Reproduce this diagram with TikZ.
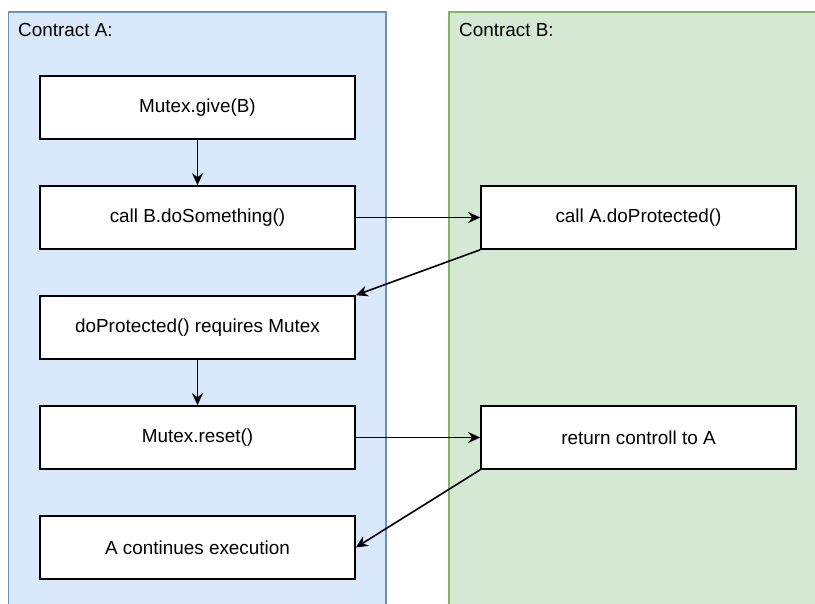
\documentclass[tikz,border=0pt]{standalone}
\usepackage{fontspec}
\setmainfont{Liberation Sans}
\usetikzlibrary{arrows.meta,positioning}
\definecolor{contractAfill}{HTML}{DAE8FC}
\definecolor{contractAline}{HTML}{6C8EBF}
\definecolor{contractBfill}{HTML}{D5E8D4}
\definecolor{contractBline}{HTML}{82B366}

\begin{document}
\begin{tikzpicture}[x=1pt, y=-1pt, node distance=110pt,
		stepbox/.style={draw, line width=1.6pt, fill=white, minimum width=315pt, minimum height=63pt, inner sep=0pt, font=\fontsize{18.9}{22}\selectfont},
		lanelabel/.style={anchor=base west, inner sep=0pt, font=\fontsize{18.9}{22}\selectfont},
		>={Stealth[length=12pt,width=11pt,inset=4pt]}]
		\path[use as bounding box, clip] (0,0) rectangle (815,604);
		
		% the two contracts
		\draw[contractAline, fill=contractAfill, line width=1.3pt] (8.5,12) rectangle (386,615);
		\draw[contractBline, fill=contractBfill, line width=1.3pt] (449,12) rectangle (830,615);
		\node [lanelabel] (labA) at (18,36.5) {Contract A:};
		\node [lanelabel] (labB) at (459,36.5) {Contract B:};
		
		\node [stepbox] (give) at (197.5,107.5) {Mutex.give(B)};
		\node [stepbox, below of=give] (call) {call B.doSomething()};
		\node [stepbox, below of=call] (req) {doProtected() requires Mutex};
		\node [stepbox, below of=req] (reset) {Mutex.reset()};
		\node [stepbox, below of=reset] (cont) {A continues execution};
		\node [stepbox, right of=call, node distance=441pt] (prot) {call A.doProtected()};
		\node [stepbox, right of=reset, node distance=441pt] (ret) {return controll to A};
		
		\draw[->, line width=1.6pt]
		(give) -- (call);
		\draw[->, line width=1.6pt]
		(call) -- (prot);
		\draw[->, line width=1.6pt]
		(prot.south west) -- (req.north east);
		\draw[->, line width=1.6pt]
		(req) -- (reset);
		\draw[->, line width=1.6pt]
		(reset) -- (ret);
		\draw[->, line width=1.6pt]
		(ret.south west) -- (cont.east);
		
		\end{tikzpicture}
\end{document}
